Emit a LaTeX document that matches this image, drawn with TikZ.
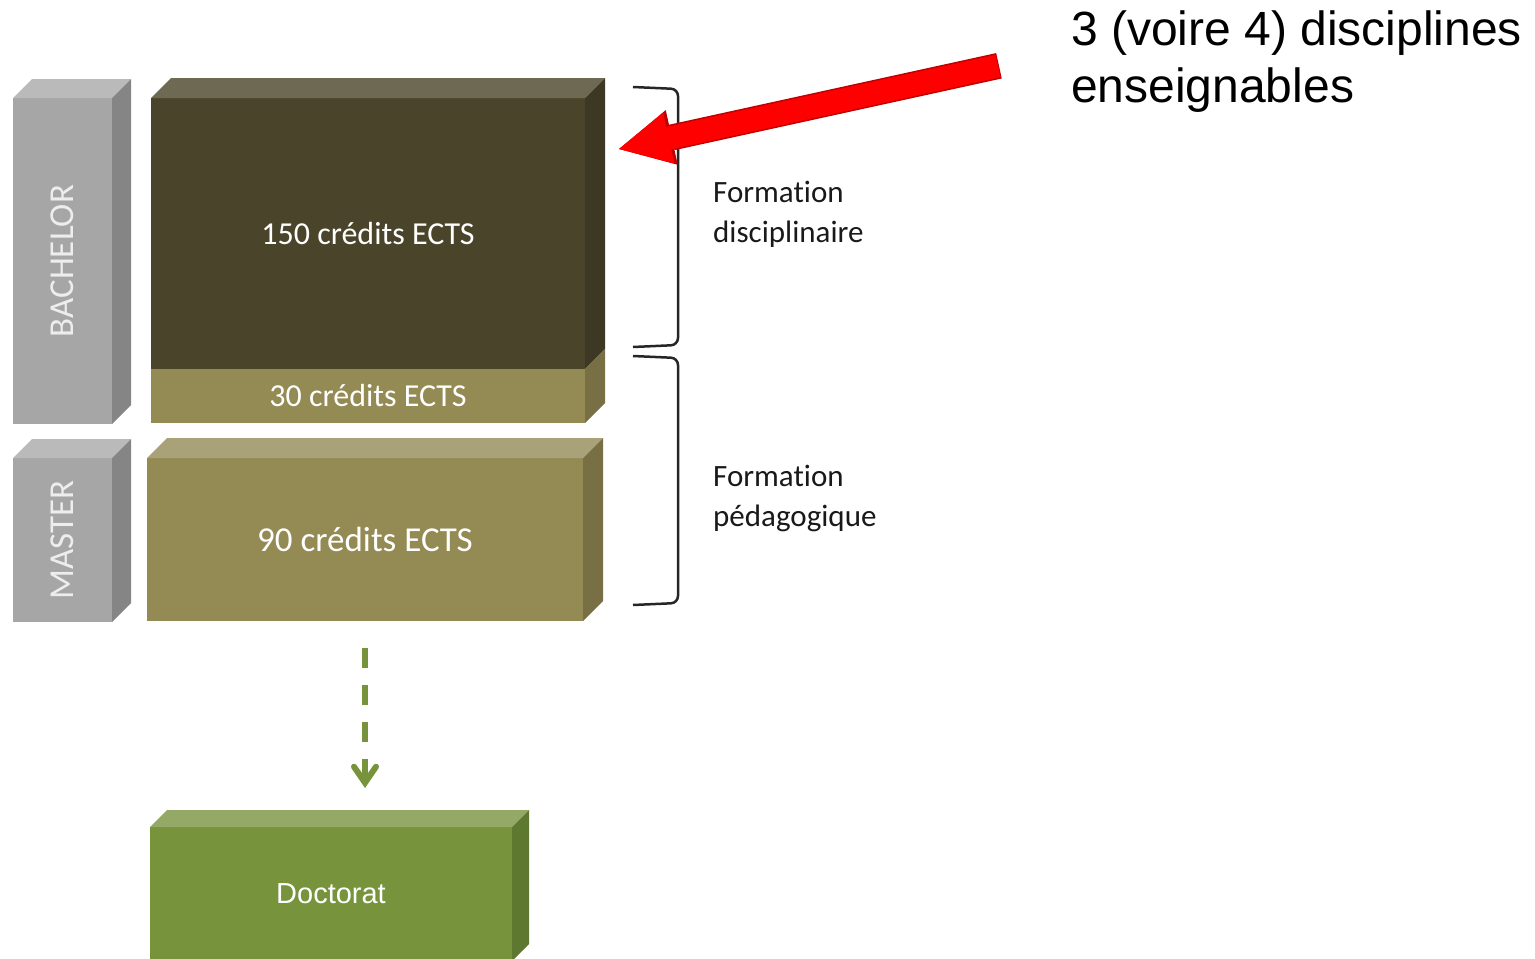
\documentclass[tikz,border=0pt]{standalone}
\usepackage{fontspec}
\setmainfont{Carlito}[Ligatures=NoCommon]
\newfontfamily\arialfont{Liberation Sans}
\usetikzlibrary{arrows.meta}
\definecolor{discfront}{HTML}{4A452A}
\definecolor{disctop}{HTML}{6E6953}
\definecolor{discside}{HTML}{3C3823}
\definecolor{pedfront}{HTML}{948A54}
\definecolor{pedtop}{HTML}{A9A279}
\definecolor{pedside}{HTML}{787044}
\definecolor{greyfront}{HTML}{A6A6A6}
\definecolor{greytop}{HTML}{BABABA}
\definecolor{greyside}{HTML}{858585}
\definecolor{docfront}{HTML}{77933C}
\definecolor{doctop}{HTML}{94A965}
\definecolor{docside}{HTML}{5F7830}
\tikzset{
  block/.style={inner sep=0pt,outer sep=0pt,text=white},
  ectsfont/.style={font=\fontsize{32pt}{38pt}\selectfont},
  levelfont/.style={font=\fontsize{35pt}{40pt}\selectfont,text=white!93!black},
  sidenote/.style={anchor=base west,align=left,inner sep=0pt,text=black!90,
    font=\fontsize{31pt}{40pt}\selectfont},
  bracket/.style={line width=2.5pt,draw=black!85,rounded corners=7pt},
}
% faces of the 3d blocks
\newcommand{\topface}[3]{\fill[#2] (#1.north west) -- ++(#3,-#3) -- ([shift={(#3,-#3)}]#1.north east) -- (#1.north east) -- cycle;}
\newcommand{\sideface}[3]{\fill[#2] (#1.north east) -- ++(#3,-#3) -- ([shift={(#3,-#3)}]#1.south east) -- (#1.south east) -- cycle;}

\begin{document}
\begin{tikzpicture}[x=1pt,y=-1pt]
  \useasboundingbox (0,0) rectangle (1535,959);

  \node [block,fill=greyfront,minimum width=99pt,minimum height=326pt] (bach) at (62.5,261) {};
  \topface{bach}{greytop}{19}
  \sideface{bach}{greyside}{19}
  \node [levelfont,rotate=90] (bachtext) at (bach.center) {BACHELOR};

  \node [block,fill=discfront,ectsfont,minimum width=434pt,minimum height=271pt] (disc) at (368,233.5) {150 crédits ECTS};
  \node [block,fill=pedfront,ectsfont,minimum width=434pt,minimum height=54pt] (bped) at (368,396) {30 crédits ECTS};
  \topface{disc}{disctop}{20}
  \sideface{disc}{discside}{20}
  \sideface{bped}{pedside}{20}

  \node [block,fill=greyfront,minimum width=99pt,minimum height=164pt] (mast) at (62.5,540) {};
  \topface{mast}{greytop}{19}
  \sideface{mast}{greyside}{19}
  \node [levelfont,rotate=90] (masttext) at (mast.center) {MASTER};

  \node [block,fill=pedfront,font=\fontsize{35pt}{40pt}\selectfont,minimum width=436pt,minimum height=163pt] (mped) at (365,539.5) {90 crédits ECTS};
  \topface{mped}{pedtop}{20}
  \sideface{mped}{pedside}{20}

  \node [block,fill=docfront,font=\arialfont\fontsize{29pt}{34pt}\selectfont,minimum width=362pt,minimum height=134pt] (doc) at (331,894) {Doctorat};
  \topface{doc}{doctop}{17}
  \sideface{doc}{docside}{17}

  \draw [docfront,line width=6pt,dash pattern=on 20pt off 17pt,shorten <=27pt,shorten >=39pt,
    -{Straight Barb[length=16pt,width=22pt,line cap=round]}] (mped.south) -- (mped.south |- doc.north);

  \draw [bracket] (633,87) -- (678,89) -- (678,345) -- (633,347);
  \draw [bracket] (633,356) -- (678,358) -- (678,603) -- (633,605);
  \node [sidenote] (fdisc) at (713,242) {Formation\\disciplinaire};
  \node [sidenote] (fped) at (713,526) {Formation\\pédagogique};

  \node [anchor=base west,align=left,inner sep=0pt,font=\arialfont\fontsize{48pt}{57pt}\selectfont] (note) at (1071,102) {3 (voire 4) disciplines\\enseignables};
  \coordinate (redtail) at (998,66);
  \coordinate (redtip) at (619,149);
  \draw [line width=26pt,draw=red!75!black,shorten <=-1pt,
    -{Triangle[length=54pt,width=56pt,line width=0pt 0]}] (redtail) -- (redtip);
  \draw [line width=23pt,draw=red,
    -{Triangle[length=51pt,width=52pt,line width=0pt 0]}] (redtail) -- (redtip);
\end{tikzpicture}
\end{document}
